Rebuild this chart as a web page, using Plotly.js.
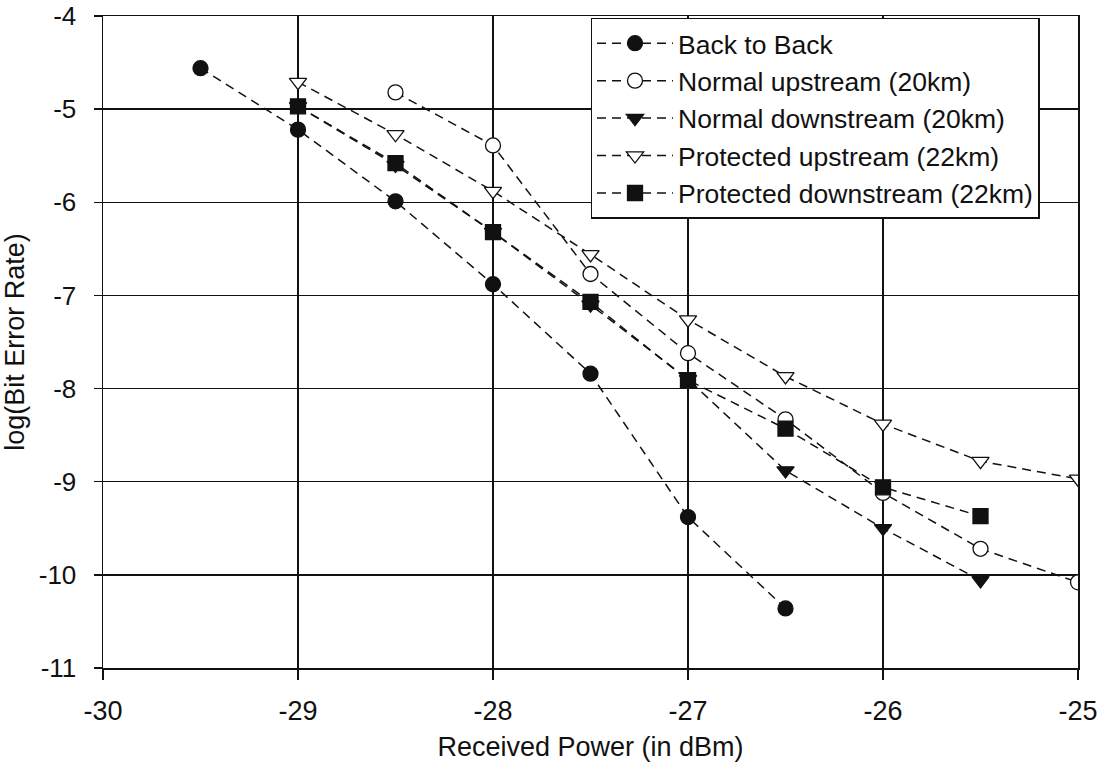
<!DOCTYPE html>
<html>
<head>
<meta charset="utf-8">
<script src="https://cdn.plot.ly/plotly-3.0.1.min.js"></script>
<style>html,body{margin:0;padding:0;background:#fff;}#chart{width:1107px;height:773px;}</style>
</head>
<body>
<div id="chart"></div>
<script>
const seriesNames = ["Back to Back", "Normal upstream (20km)", "Normal downstream (20km)", "Protected upstream (22km)", "Protected downstream (22km)"];

const b2bX = [-29.5, -29, -28.5, -28, -27.5, -27, -26.5];
const b2bY = [-4.56, -5.22, -5.99, -6.88, -7.84, -9.38, -10.36];

const nUpX = [-28.5, -28, -27.5, -27, -26.5, -26, -25.5, -25];
const nUpY = [-4.82, -5.39, -6.77, -7.62, -8.33, -9.12, -9.72, -10.08];

const nDownX = [-29, -28.5, -28, -27.5, -27, -26.5, -26, -25.5];
const nDownY = [-4.97, -5.6, -6.32, -7.1, -7.9, -8.88, -9.5, -10.06];

const pUpX = [-29, -28.5, -28, -27.5, -27, -26.5, -26, -25.5, -25];
const pUpY = [-4.71, -5.27, -5.88, -6.56, -7.26, -7.87, -8.38, -8.78, -8.97];

const pDownX = [-29, -28.5, -28, -27.5, -27, -26.5, -26, -25.5];
const pDownY = [-4.97, -5.58, -6.32, -7.07, -7.91, -8.43, -9.06, -9.37];

const xTicks = [-30, -29, -28, -27, -26, -25];
const yTicks = [-4, -5, -6, -7, -8, -9, -10, -11];

function tr(name, x, y, symbol, filled) {
  return {
    type: 'scatter', mode: 'lines+markers', name: name, x: x, y: y,
    line: {color: '#111', width: 1.5, dash: '9px,6px'},
    marker: {symbol: symbol, size: 15, color: filled ? '#111' : '#fff', line: {color: '#111', width: 1.3}}
  };
}

const data = [
  tr(seriesNames[0], b2bX, b2bY, 'circle', true),
  tr(seriesNames[1], nUpX, nUpY, 'circle', false),
  tr(seriesNames[2], nDownX, nDownY, 'triangle-down', true),
  tr(seriesNames[3], pUpX, pUpY, 'triangle-down', false),
  tr(seriesNames[4], pDownX, pDownY, 'square', true)
];

const font = {family: 'Liberation Sans, Arial, sans-serif', color: '#111'};

const layout = {
  width: 1107, height: 773,
  margin: {l: 103, r: 29, t: 16, b: 105},
  paper_bgcolor: '#fff', plot_bgcolor: '#fff',
  font: Object.assign({size: 24}, font),
  showlegend: true,
  legend: {
    x: 0.5, y: 0.997, xanchor: 'left', yanchor: 'top',
    bgcolor: '#fff', bordercolor: '#111', borderwidth: 1.5,
    font: Object.assign({size: 26.5}, font),
    tracegroupgap: 0, itemwidth: 76
  },
  xaxis: {
    range: [-30, -25], tickvals: xTicks, ticktext: xTicks.map(String),
    showgrid: true, gridcolor: '#111', gridwidth: 1.5,
    showline: true, linecolor: '#111', linewidth: 1.5, mirror: true,
    ticks: 'outside', ticklen: 10, tickcolor: '#111', tickwidth: 1.5,
    ticklabelstandoff: 8, ticklabeloverflow: 'allow',
    zeroline: false, tickfont: Object.assign({size: 27}, font),
    title: {text: 'Received Power (in dBm)', font: Object.assign({size: 27}, font), standoff: 12}
  },
  yaxis: {
    range: [-11, -4], tickvals: yTicks, ticktext: yTicks.map(String),
    showgrid: true, gridcolor: '#111', gridwidth: 1.5,
    showline: true, linecolor: '#111', linewidth: 1.5, mirror: true,
    ticks: 'outside', ticklen: 8, tickcolor: '#111', tickwidth: 1.5,
    ticklabelstandoff: 12, ticklabeloverflow: 'allow',
    zeroline: false, tickfont: Object.assign({size: 26}, font),
    title: {text: 'log(Bit Error Rate)', font: Object.assign({size: 27}, font), standoff: 6}
  }
};

Plotly.newPlot('chart', data, layout, {displayModeBar: false, staticPlot: true});
</script>
</body>
</html>
